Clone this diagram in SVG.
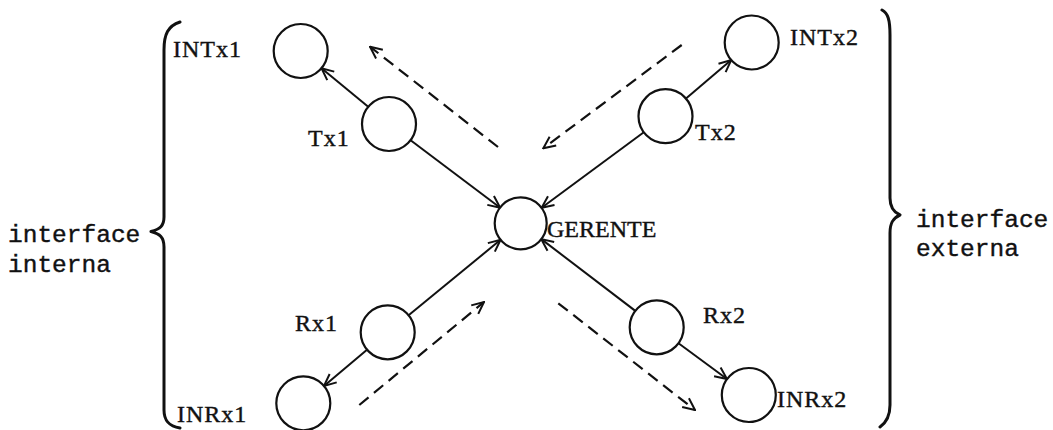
<svg xmlns="http://www.w3.org/2000/svg" width="1053" height="430" viewBox="0 0 1053 430">
  <style>
    .node { fill: #fff; stroke: #111; stroke-width: 2.2; }
    .lbl { font-family: "Liberation Serif", "Times New Roman", serif; font-size: 24px; fill: #111; stroke: #111; stroke-width: 0.4; }
    .mono { font-family: "Liberation Mono", "Courier New", monospace; font-size: 24.5px; fill: #111; stroke: #111; stroke-width: 0.4; }
    .edge { stroke: #111; stroke-width: 2; fill: none; marker-end: url(#head); }
    .flow { stroke: #111; stroke-width: 2.2; fill: none; stroke-dasharray: 12 7; marker-end: url(#head); }
    .brace { stroke: #111; stroke-width: 3; fill: none; stroke-linecap: round; stroke-linejoin: round; }
  </style>
  <defs>
    <marker id="head" viewBox="0 0 14 14" refX="13" refY="7" markerWidth="14" markerHeight="14" markerUnits="userSpaceOnUse" orient="auto">
      <path d="M1,1.5 L13,7 L1,12.5" fill="none" stroke="#111" stroke-width="2" stroke-linejoin="miter"/>
    </marker>
  </defs>
  <rect width="1053" height="430" fill="#fff"/>

  <!-- side braces and their captions -->
  <g id="interface-interna">
    <path class="brace" d="M180,22 C168,26 164,34 164,50 L164,217 C164,226 160,229 151,231.5 C160,234 164,237 164,247 L164,410 C164,420 168,426 180,428"/>
    <text class="mono" x="8" y="242">interface</text>
    <text class="mono" x="8" y="272">interna</text>
  </g>
  <g id="interface-externa">
    <path class="brace" d="M882,10 C888,13 890,20 890,35 L890,198 C890,207 893,212 900,215 C893,218 890,223 890,233 L890,405 C890,415 887,422 880,427"/>
    <text class="mono" x="916" y="227">interface</text>
    <text class="mono" x="916" y="256">externa</text>
  </g>

  <!-- connectors -->
  <g id="connectors">
    <line class="edge" x1="410.6" y1="140.2" x2="500.2" y2="207.7"/>
    <line class="edge" x1="643.8" y1="132.3" x2="541.6" y2="207.8"/>
    <line class="edge" x1="408.6" y1="315.2" x2="500.6" y2="239.8"/>
    <line class="edge" x1="635.3" y1="310.9" x2="541.3" y2="239.1"/>
    <line class="edge" x1="368.2" y1="106.8" x2="321.5" y2="68.2"/>
    <line class="edge" x1="686" y1="98.6" x2="731.2" y2="60.1"/>
    <line class="edge" x1="367" y1="349.7" x2="324" y2="385.9"/>
    <line class="edge" x1="678.5" y1="343.3" x2="727" y2="379"/>
    <!-- dashed flow directions -->
    <line class="flow" x1="498" y1="147" x2="370" y2="46.7"/>
    <line class="flow" x1="681.7" y1="45" x2="543.3" y2="148.3"/>
    <line class="flow" x1="359.3" y1="405" x2="484" y2="302"/>
    <line class="flow" x1="558.3" y1="303.3" x2="695" y2="410"/>
  </g>

  <!-- nodes -->
  <g id="INTx1">
    <circle class="node" cx="300.7" cy="51" r="27"/>
    <text class="lbl" x="173" y="57" letter-spacing="1">INTx1</text>
  </g>
  <g id="Tx1">
    <circle class="node" cx="389" cy="124" r="27"/>
    <text class="lbl" x="308" y="146" letter-spacing="1">Tx1</text>
  </g>
  <g id="INTx2">
    <circle class="node" cx="751.7" cy="42.5" r="27"/>
    <text class="lbl" x="790" y="45" letter-spacing="1">INTx2</text>
  </g>
  <g id="Tx2">
    <circle class="node" cx="665.5" cy="116.2" r="27"/>
    <text class="lbl" x="695" y="140" letter-spacing="1">Tx2</text>
  </g>
  <g id="GERENTE">
    <circle class="node" cx="520.7" cy="223.3" r="26"/>
    <text class="lbl" x="547" y="237">GERENTE</text>
  </g>
  <g id="Rx1">
    <circle class="node" cx="387.7" cy="332.3" r="27"/>
    <text class="lbl" x="295" y="331" letter-spacing="1">Rx1</text>
  </g>
  <g id="INRx1">
    <circle class="node" cx="303.3" cy="403.3" r="27"/>
    <text class="lbl" x="177" y="422" letter-spacing="1">INRx1</text>
  </g>
  <g id="Rx2">
    <circle class="node" cx="656.7" cy="327.3" r="27"/>
    <text class="lbl" x="703" y="323" letter-spacing="1">Rx2</text>
  </g>
  <g id="INRx2">
    <circle class="node" cx="748.8" cy="395" r="27"/>
    <text class="lbl" x="777" y="407" letter-spacing="1">INRx2</text>
  </g>
</svg>
